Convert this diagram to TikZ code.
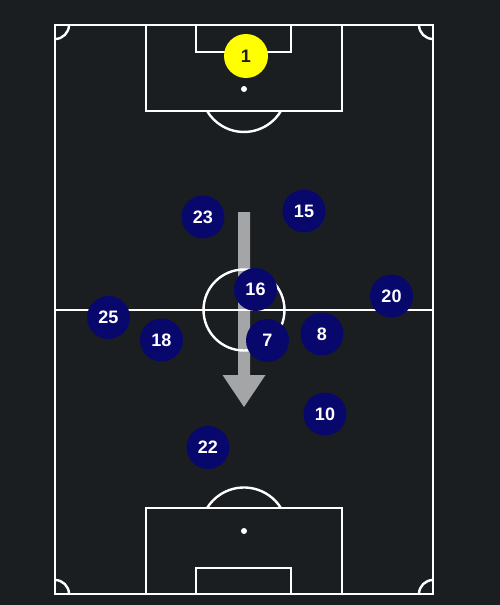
\documentclass[tikz,border=0pt]{standalone}
\usepackage{fontspec}
\setmainfont{Liberation Sans}
\definecolor{bg}{HTML}{1A1E21}
\definecolor{navy}{HTML}{08076B}
\definecolor{gkyellow}{HTML}{FFFF00}
\begin{document}
\begin{tikzpicture}[x=1pt,y=-1pt,
  pline/.style={draw=white,line width=2.4pt},
  player/.style={circle,fill=navy,minimum size=43pt,inner sep=0pt,text=white,font=\fontsize{18}{18}\selectfont\bfseries},
  keeper/.style={circle,fill=gkyellow,minimum size=44pt,inner sep=0pt,text=bg,font=\fontsize{18}{18}\selectfont\bfseries},
  runarrow/.style={fill=white,fill opacity=0.6}]
\fill[bg] (0,0) rectangle (500,605);
\useasboundingbox (0,0) rectangle (500,605);
% pitch
\draw[pline] (55,25) rectangle (433,594);
\draw[pline] (55,310) -- (433,310);
\draw[pline] (244,310) circle[radius=40.5pt];
% top
\draw[pline] (146,25) rectangle (342,111);
\draw[pline] (196,25) rectangle (291,52);
\fill[white] (244,89) circle[radius=3pt];
\draw[pline] (280.9,111) arc[start angle=-30.8,end angle=-149.2,radius=43pt];
% bottom
\draw[pline] (146,594) rectangle (342,508);
\draw[pline] (196,594) rectangle (291,568);
\fill[white] (244,531) circle[radius=3pt];
\draw[pline] (280.9,508) arc[start angle=31.9,end angle=148.1,radius=43.5pt];
% corners
\draw[pline] (69,25) arc[start angle=0,end angle=-90,radius=14pt];
\draw[pline] (419,25) arc[start angle=180,end angle=270,radius=14pt];
\draw[pline] (55,580) arc[start angle=90,end angle=0,radius=14pt];
\draw[pline] (419,594) arc[start angle=180,end angle=90,radius=14pt];
% arrow
\fill[runarrow] (238,212) -- (250,212) -- (250,375) -- (265.5,375) -- (244,407) -- (222.5,375) -- (238,375) -- cycle;
% players
\node[keeper] (p1) at (246,56) {1};
\node[player] (p23) at (203,217) {23};
\node[player] (p15) at (304,211) {15};
\node[player] (p16) at (255.5,289.5) {16};
\node[player] (p20) at (391.5,296) {20};
\node[player] (p25) at (108.5,317.5) {25};
\node[player] (p18) at (161.5,340) {18};
\node[player] (p7) at (267.5,340.5) {7};
\node[player] (p8) at (322,334) {8};
\node[player] (p10) at (325,414) {10};
\node[player] (p22) at (208,447.5) {22};
\end{tikzpicture}
\end{document}
